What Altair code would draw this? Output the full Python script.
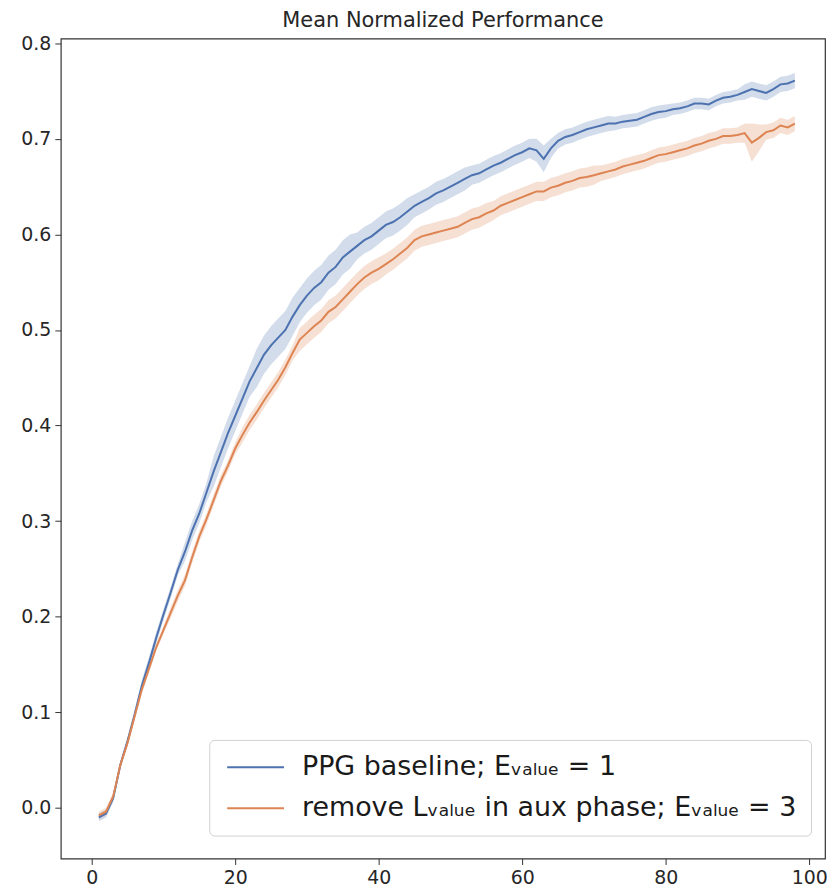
import altair as alt
import pandas as pd

steps = list(range(1, 99))

ppg_mean = [-0.010, -0.006, 0.010, 0.045, 0.070, 0.098, 0.128, 0.152, 0.178, 0.202,
            0.225, 0.249, 0.268, 0.290, 0.308, 0.330, 0.352, 0.372, 0.392, 0.410,
            0.428, 0.446, 0.460, 0.474, 0.484, 0.492, 0.500, 0.514, 0.526, 0.536,
            0.544, 0.550, 0.560, 0.566, 0.576, 0.582, 0.588, 0.594, 0.598, 0.604,
            0.610, 0.613, 0.618, 0.624, 0.630, 0.634, 0.638, 0.643, 0.646, 0.650,
            0.654, 0.658, 0.662, 0.664, 0.668, 0.672, 0.675, 0.679, 0.683, 0.686,
            0.690, 0.688, 0.679, 0.690, 0.698, 0.702, 0.704, 0.707, 0.710, 0.712,
            0.714, 0.716, 0.716, 0.718, 0.719, 0.720, 0.723, 0.726, 0.728, 0.729,
            0.731, 0.732, 0.734, 0.737, 0.737, 0.736, 0.740, 0.743, 0.744, 0.746,
            0.749, 0.752, 0.750, 0.748, 0.752, 0.757, 0.758, 0.761]

ppg_band = [0.004, 0.004, 0.004, 0.004, 0.004, 0.004, 0.006, 0.006, 0.006, 0.006,
            0.006, 0.006, 0.010, 0.010, 0.010, 0.010, 0.016, 0.016, 0.016, 0.016,
            0.016, 0.016, 0.020, 0.020, 0.020, 0.020, 0.020, 0.020, 0.018, 0.018,
            0.018, 0.018, 0.018, 0.018, 0.018, 0.018, 0.014, 0.014, 0.014, 0.014,
            0.014, 0.014, 0.014, 0.014, 0.012, 0.012, 0.012, 0.012, 0.012, 0.012,
            0.012, 0.012, 0.010, 0.010, 0.010, 0.010, 0.010, 0.010, 0.010, 0.010,
            0.010, 0.012, 0.014, 0.010, 0.008, 0.008, 0.008, 0.008, 0.008, 0.008,
            0.008, 0.008, 0.007, 0.007, 0.007, 0.007, 0.007, 0.007, 0.007, 0.007,
            0.006, 0.006, 0.006, 0.006, 0.006, 0.006, 0.006, 0.006, 0.006, 0.006,
            0.008, 0.008, 0.008, 0.008, 0.008, 0.008, 0.008, 0.008]

rem_mean = [-0.008, -0.004, 0.012, 0.045, 0.068, 0.096, 0.124, 0.146, 0.168, 0.186,
            0.204, 0.222, 0.238, 0.262, 0.284, 0.302, 0.322, 0.342, 0.358, 0.376,
            0.390, 0.403, 0.414, 0.426, 0.437, 0.448, 0.461, 0.476, 0.490, 0.497,
            0.504, 0.510, 0.519, 0.524, 0.532, 0.540, 0.548, 0.555, 0.560, 0.564,
            0.569, 0.574, 0.580, 0.586, 0.594, 0.598, 0.600, 0.602, 0.604, 0.606,
            0.608, 0.612, 0.616, 0.618, 0.622, 0.625, 0.630, 0.633, 0.636, 0.639,
            0.642, 0.645, 0.645, 0.649, 0.651, 0.654, 0.656, 0.659, 0.660, 0.662,
            0.664, 0.666, 0.668, 0.671, 0.673, 0.675, 0.677, 0.680, 0.683, 0.684,
            0.686, 0.688, 0.690, 0.693, 0.695, 0.698, 0.700, 0.703, 0.703, 0.704,
            0.706, 0.696, 0.701, 0.707, 0.709, 0.714, 0.712, 0.716]

rem_band = [0.004, 0.004, 0.004, 0.004, 0.004, 0.004, 0.004, 0.004, 0.004, 0.004,
            0.006, 0.006, 0.006, 0.006, 0.006, 0.006, 0.006, 0.006, 0.006, 0.006,
            0.008, 0.008, 0.008, 0.008, 0.008, 0.008, 0.008, 0.008, 0.012, 0.012,
            0.012, 0.012, 0.012, 0.012, 0.012, 0.012, 0.012, 0.012, 0.012, 0.012,
            0.011, 0.011, 0.011, 0.011, 0.011, 0.011, 0.011, 0.011, 0.011, 0.011,
            0.011, 0.011, 0.011, 0.011, 0.011, 0.010, 0.010, 0.010, 0.010, 0.010,
            0.010, 0.010, 0.010, 0.010, 0.010, 0.010, 0.010, 0.010, 0.010, 0.010,
            0.008, 0.008, 0.008, 0.008, 0.008, 0.008, 0.008, 0.008, 0.008, 0.008,
            0.008, 0.008, 0.008, 0.008, 0.008, 0.008, 0.008, 0.008, 0.008, 0.008,
            0.010, 0.020, 0.014, 0.008, 0.008, 0.008, 0.008, 0.008]

series_names = ["PPG baseline; Eᵥₐₗᵤₑ = 1",
                "remove Lᵥₐₗᵤₑ in aux phase; Eᵥₐₗᵤₑ = 3"]
colors = ["#4c72b0", "#dd8452"]
x_ticks = [0, 20, 40, 60, 80, 100]
y_ticks = [0.0, 0.1, 0.2, 0.3, 0.4, 0.5, 0.6, 0.7, 0.8]

rows = []
for name, m, b in [(series_names[0], ppg_mean, ppg_band),
                   (series_names[1], rem_mean, rem_band)]:
    for x, v, h in zip(steps, m, b):
        rows.append({"x": x, "mean": v, "lo": v - h, "hi": v + h, "series": name})
df = pd.DataFrame(rows)

xs = alt.Scale(domain=[-4.3, 102.2], nice=False, zero=False)
ys = alt.Scale(domain=[-0.053, 0.805], nice=False, zero=False)
cs = alt.Scale(domain=series_names, range=colors)

x_axis = alt.Axis(values=x_ticks, format="d", title=None)
y_axis = alt.Axis(values=y_ticks, format=".1f", title=None, minExtent=45, maxExtent=45)

legend = alt.Legend(
    title=None, orient="none", legendX=149, legendY=704,
    labelFontSize=27, labelFont="DejaVu Sans", labelColor="#1a1a1a",
    symbolType="M-3,0H3", symbolSize=361, symbolStrokeWidth=2,
    symbolOpacity=1, symbolOffset=19, labelOffset=33, labelLimit=1000,
    fillColor="white", strokeColor="#d0d0d0", cornerRadius=5,
    padding=14, rowPadding=13,
)

base = alt.Chart(df)

band = base.mark_area(opacity=0.25, clip=True).encode(
    x=alt.X("x:Q", scale=xs, axis=x_axis),
    y=alt.Y("lo:Q", scale=ys, axis=y_axis, stack=None),
    y2="hi:Q",
    color=alt.Color("series:N", scale=cs, legend=legend),
)

line = base.mark_line(strokeWidth=2, clip=True).encode(
    x=alt.X("x:Q", scale=xs, axis=x_axis),
    y=alt.Y("mean:Q", scale=ys, axis=y_axis),
    color=alt.Color("series:N", scale=cs, legend=legend),
)

chart = alt.layer(band, line).properties(
    width=767, height=823,
    title=alt.TitleParams("Mean Normalized Performance", fontSize=21,
                          font="DejaVu Sans", fontWeight="normal",
                          color="#262626", offset=3, anchor="middle"),
    padding={"left": 8, "top": 0, "right": 0, "bottom": 0},
).configure_view(
    stroke="#333333", strokeWidth=1.2
).configure_axis(
    domain=False, grid=False, tickColor="#333333", tickSize=6,
    labelColor="#262626", labelFont="DejaVu Sans", labelFontSize=19,
    labelPadding=4,
)

chart.save("out.html", embed_options={"renderer": "svg", "actions": False})
